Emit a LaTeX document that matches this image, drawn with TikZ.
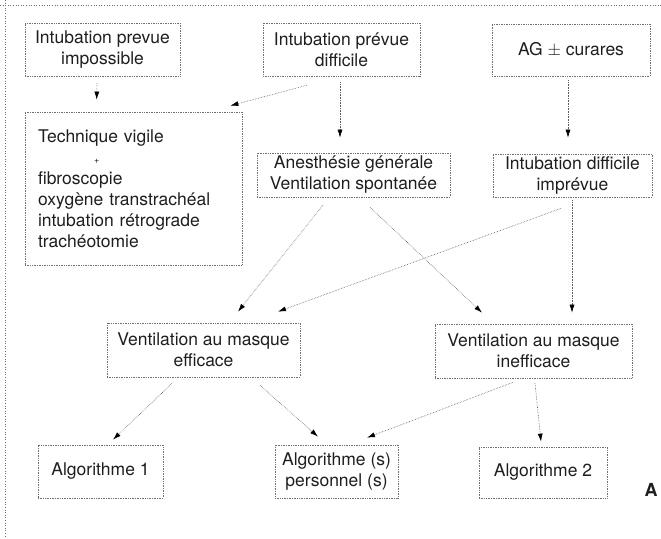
\documentclass[tikz,border=0pt]{standalone}
\usepackage{tikz}
\usetikzlibrary{arrows.meta,positioning,calc}
\usepackage{xcolor}
\usepackage{fontspec}
\setmainfont{TeX Gyre Heros}
\definecolor{boxline}{HTML}{707070}
\definecolor{linkline}{HTML}{5E5E5E}
\definecolor{inkdark}{HTML}{1E1E1E}

\begin{document}
\begin{tikzpicture}[x=1pt, y=1pt,
  box/.style={draw=boxline, densely dotted, line width=0.7pt, inner sep=0pt, align=center,
    text=inkdark, font=\fontsize{17.5}{21}\selectfont},
  link/.style={draw=linkline, densely dotted, line width=0.6pt, -{Latex[length=8pt,width=5pt,black]}}]
  \useasboundingbox (0,0) rectangle (661,538);
  % Frame of the scan
  \draw[boxline, dotted, line width=0.6pt] (0,533) -- (661,533);
  \draw[boxline, dotted, line width=0.6pt] (5,538) -- (5,0);
  % Top row
  \node[box, minimum width=155, minimum height=53] (imposs)   at (102.5,488.5) {Intubation prevue\\impossible};
  \node[box, minimum width=157, minimum height=53] (prevdiff) at (341.5,488.5) {Intubation prévue\\difficile};
  \node[box, minimum width=158, minimum height=52] (agcur)    at (571,488)     {AG $\pm$ curares};
  % Second row
  \node[box, align=left, text width=191, inner xsep=13, minimum height=153] (vigile) at (133.5,349.5)
    {Technique vigile\\ \hspace*{56pt}{\small +}\\ fibroscopie\\ oxygène transtrachéal\\ intubation rétrograde\\ trachéotomie};
  \node[box, minimum width=193, minimum height=44] (anesth) at (353.5,363)   {Anesthésie générale\\Ventilation spontanée};
  \node[box, minimum width=159, minimum height=43] (imprev) at (572.5,362.5) {Intubation difficile\\imprévue};
  % Ventilation
  \node[box, minimum width=193, minimum height=54] (efficace) at (203.5,188) {Ventilation au masque\\efficace};
  \node[box, minimum width=197, minimum height=54] (ineff)    at (533.5,187) {Ventilation au masque\\inefficace};
  % Algorithms
  \node[box, minimum width=125, minimum height=53] (algo1) at (100.5,66.5) {Algorithme 1};
  \node[box, minimum width=123, minimum height=53] (perso) at (336.5,66.5) {Algorithme (s)\\personnel (s)};
  \node[box, minimum width=128, minimum height=51] (algo2) at (543,65.5)   {Algorithme 2};
  \node[font=\bfseries\fontsize{18}{18}\selectfont, text=inkdark] (panel) at (651,48) {A};
  % Arrows
  \draw[link] ($(imposs.south)+(-5.5,-7)$) -- ($(vigile.north west)+(72,12)$);
  \draw[link] ($(prevdiff.south west)+(44,-9)$) -- ($(vigile.north east)+(-12,6)$);
  \draw[link] ($(prevdiff.south)+(-1.5,-6)$) -- ($(anesth.north)+(-13.5,15)$);
  \draw[link] ($(agcur.south)+(-3,-4)$) -- ($(imprev.north)+(-4.5,16)$);
  \draw[link] ($(anesth.south)+(-30.5,-8)$) -- ($(efficace.north)+(34.5,11)$);
  \draw[link] ($(anesth.south)+(16.5,-10)$) -- ($(ineff.north)+(-51.5,11)$);
  \draw[link] ($(imprev.south)+(-11.5,-11)$) -- ($(efficace.north)+(74.5,11)$);
  \draw[link] ($(imprev.south)+(-0.5,-3)$) -- ($(ineff.north)+(38.5,11)$);
  \draw[link] ($(efficace.south)+(-31.5,-6)$) -- ($(algo1.north)+(12.5,5)$);
  \draw[link] ($(efficace.south)+(56.5,-8)$) -- ($(perso.north)+(-18.5,8)$);
  \draw[link] ($(ineff.south)+(-20.5,-4)$) -- ($(perso.north)+(30.5,7)$);
  \draw[link] ($(ineff.south)+(1.5,-5)$) -- ($(algo2.north)+(-2,5)$);
\end{tikzpicture}
\end{document}
